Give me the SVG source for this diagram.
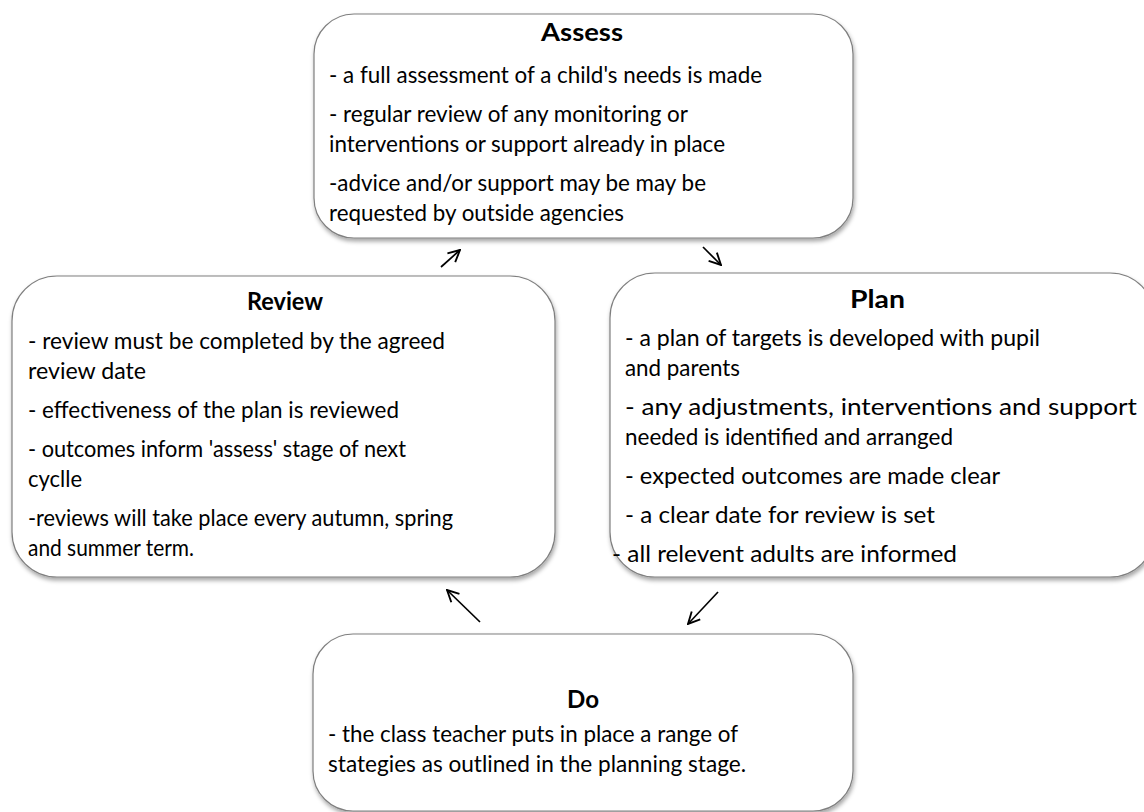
<svg xmlns="http://www.w3.org/2000/svg" width="1144" height="812" viewBox="0 0 1144 812">
<defs>
<filter id="sh" x="-5%" y="-5%" width="110%" height="115%">
<feDropShadow dx="1" dy="3" stdDeviation="2" flood-color="#000" flood-opacity="0.35"/>
</filter>
<marker id="ah" viewBox="0 0 12 12" refX="11" refY="6" markerWidth="14" markerHeight="14" markerUnits="userSpaceOnUse" orient="auto">
<path d="M1,1 L11,6 L1,11" fill="none" stroke="#000" stroke-width="1.6"/>
</marker>
<style>
.box{fill:#fff;stroke:#7f7f7f;stroke-width:1.2;filter:url(#sh)}
.h{font-family:Lato,"Liberation Sans",sans-serif;font-weight:bold;font-size:24px;fill:#000}
.t{font-family:Lato,"Liberation Sans",sans-serif;font-size:23px;fill:#000}
.c{fill:none;stroke:#000;stroke-width:1.7;marker-end:url(#ah)}
</style>
</defs>
<rect width="1144" height="812" fill="#fff"/>
<g id="assess">
<rect class="box" x="314" y="14" width="539" height="224" rx="40"/>
<text class="h" x="541" y="41" textLength="82" lengthAdjust="spacingAndGlyphs">Assess</text>
<text class="t" x="329" y="83" textLength="433" lengthAdjust="spacingAndGlyphs">- a full assessment of a child's needs is made</text>
<text class="t" x="329" y="122" textLength="359" lengthAdjust="spacingAndGlyphs">- regular review of any monitoring or</text>
<text class="t" x="329" y="152" textLength="396" lengthAdjust="spacingAndGlyphs">interventions or support already in place</text>
<text class="t" x="329" y="191" textLength="377" lengthAdjust="spacingAndGlyphs">-advice and/or support may be may be</text>
<text class="t" x="329" y="221" textLength="295" lengthAdjust="spacingAndGlyphs">requested by outside agencies</text>
</g>
<g id="review">
<rect class="box" x="12" y="276" width="543" height="301" rx="45"/>
<text class="h" x="247" y="310" textLength="76" lengthAdjust="spacingAndGlyphs">Review</text>
<text class="t" x="28" y="349" textLength="417" lengthAdjust="spacingAndGlyphs">- review must be completed by the agreed</text>
<text class="t" x="28" y="379" textLength="118" lengthAdjust="spacingAndGlyphs">review date</text>
<text class="t" x="28" y="418" textLength="371" lengthAdjust="spacingAndGlyphs">- effectiveness of the plan is reviewed</text>
<text class="t" x="28" y="457" textLength="378" lengthAdjust="spacingAndGlyphs">- outcomes inform 'assess' stage of next</text>
<text class="t" x="28" y="487" textLength="54" lengthAdjust="spacingAndGlyphs">cyclle</text>
<text class="t" x="28" y="526" textLength="425" lengthAdjust="spacingAndGlyphs">-reviews will take place every autumn, spring</text>
<text class="t" x="28" y="556" textLength="166" lengthAdjust="spacingAndGlyphs">and summer term.</text>
</g>
<g id="plan">
<rect class="box" x="610" y="273" width="545" height="304" rx="45"/>
<text class="h" x="850" y="308" textLength="55" lengthAdjust="spacingAndGlyphs">Plan</text>
<text class="t" x="625" y="346" textLength="415" lengthAdjust="spacingAndGlyphs">- a plan of targets is developed with pupil</text>
<text class="t" x="625" y="376" textLength="115" lengthAdjust="spacingAndGlyphs">and parents</text>
<text class="t" x="625" y="415" textLength="512" lengthAdjust="spacingAndGlyphs">- any adjustments, interventions and support</text>
<text class="t" x="625" y="445" textLength="328" lengthAdjust="spacingAndGlyphs">needed is identified and arranged</text>
<text class="t" x="625" y="484" textLength="375" lengthAdjust="spacingAndGlyphs">- expected outcomes are made clear</text>
<text class="t" x="625" y="523" textLength="310" lengthAdjust="spacingAndGlyphs">- a clear date for review is set</text>
<text class="t" x="612" y="562" textLength="345" lengthAdjust="spacingAndGlyphs">- all relevent adults are informed</text>
</g>
<g id="do">
<rect class="box" x="313" y="634" width="540" height="177" rx="40"/>
<text class="h" x="567" y="708" textLength="32" lengthAdjust="spacingAndGlyphs">Do</text>
<text class="t" x="328" y="742" textLength="410" lengthAdjust="spacingAndGlyphs">- the class teacher puts in place a range of</text>
<text class="t" x="328" y="772" textLength="418" lengthAdjust="spacingAndGlyphs">stategies as outlined in the planning stage.</text>
</g>
<g id="connectors">
<line class="c" x1="441" y1="267" x2="460" y2="250"/>
<line class="c" x1="703" y1="247" x2="721" y2="265"/>
<line class="c" x1="718" y1="592" x2="688" y2="624"/>
<line class="c" x1="480" y1="622" x2="447" y2="590"/>
</g>
</svg>
